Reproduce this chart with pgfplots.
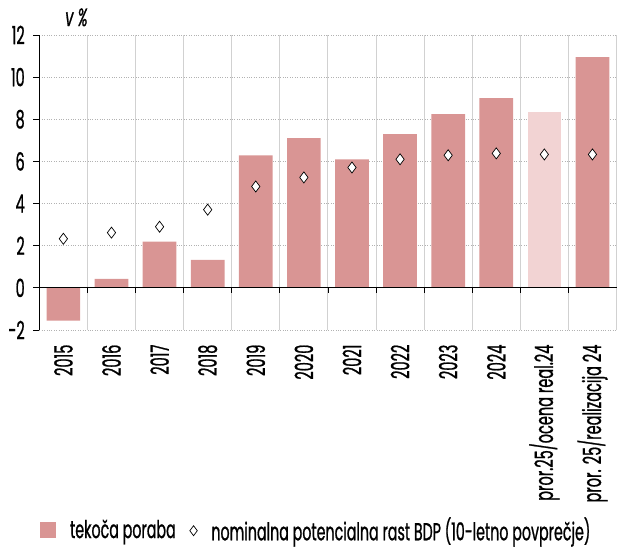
\documentclass[border=0pt]{standalone}
\usepackage{fontspec}
\setmainfont[FakeStretch=0.58, FakeBold=0.8]{Poppins}
\usepackage{pgfplots}
\pgfplotsset{compat=1.18}
\definecolor{barc}{HTML}{D99594}
\definecolor{barl}{HTML}{F2D3D3}
\newcommand{\ff}{\fontsize{25}{28}\selectfont}
\newcommand{\fl}{\fontsize{24.5}{27}\selectfont}
\begin{document}
\ff
\begin{tikzpicture}
\begin{axis}[
  scale only axis, width=575pt, height=294pt,
  xmin=-0.5, xmax=11.5, ymin=-2, ymax=12,
  ytick={-2,0,2,4,6,8,10,12},
  xtick={0,...,11},
  xticklabels={2015,2016,2017,2018,2019,2020,2021,2022,2023,2024,pror.25/ocena real.24,pror. 25/realizacija 24},
  xticklabel style={rotate=90, anchor=east, font=\ff},
  yticklabel style={font=\ff},
  minor xtick={-0.5,0.5,...,11.5},
  xminorgrids=true,
  minor x grid style={black!18, line width=1pt},
  ymajorgrids=true,
  y grid style={gray!60, dotted, line width=0.8pt},
  axis x line*=bottom,
  x axis line style={draw=none},
  axis y line*=left,
  y axis line style={black, line width=0.8pt, -},
  ytick style={black, line width=0.8pt},
  tick align=outside,
  major tick length=6pt,
  major x tick style={draw=none},
  minor x tick style={draw=none},
  tick label style={text=black},
  /pgf/number format/assume math mode=true,
  clip=false,
  legend style={at={(0.48,-0.68)}, anchor=center, draw=none, legend columns=2, font=\fl, column sep=12pt},
  legend image code/.code={\fill[barc] (0cm,-0.24cm) rectangle (0.55cm,0.31cm);},
]
\addplot[ybar, bar width=0.7, fill=barc, draw=none, bar shift=0pt] coordinates {
(0,-1.55) (1,0.43) (2,2.19) (3,1.33) (4,6.29) (5,7.1) (6,6.1) (7,7.29) (8,8.24) (9,9.0) (11,10.95)};
\addlegendentry{tekoča poraba}
\addplot[ybar, bar width=0.7, fill=barl, draw=none, bar shift=0pt, forget plot] coordinates {(10,8.33)};
\addplot[only marks, mark=diamond*, mark size=5.5pt, mark options={fill=white, draw=black, line width=0.7pt},
  legend image code/.code={\draw[mark=diamond*, mark size=5pt, mark options={fill=white, draw=black, line width=0.7pt}] plot coordinates {(0.2cm,0cm)};}] coordinates {
(0,2.33) (1,2.62) (2,2.9) (3,3.71) (4,4.81) (5,5.24) (6,5.71) (7,6.1) (8,6.29) (9,6.38) (10,6.33) (11,6.33)};
\addlegendentry{nominalna potencialna rast BDP (10-letno povprečje)}
\draw[black, line width=0.8pt] (axis cs:-0.5,0) -- (axis cs:11.5,0);
\pgfplotsinvokeforeach{0.5,1.5,...,10.5}{\draw[black, line width=0.8pt] (axis cs:#1,0) -- ([yshift=-5pt]axis cs:#1,0);}
\node[anchor=south west, font=\itshape\ff] at (rel axis cs:0.03,1.0) {v \%};
\end{axis}
\end{tikzpicture}
\end{document}
